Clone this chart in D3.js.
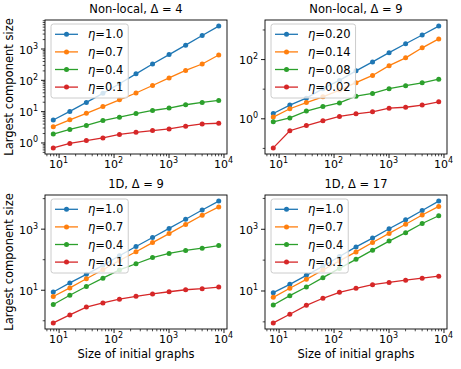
<!DOCTYPE html>
<html>
<head>
<meta charset="utf-8">
<script src="https://cdn.jsdelivr.net/npm/d3@7"></script>
<style>
body { margin: 0; background: #fff; }
svg { font-family: "DejaVu Sans", sans-serif; }
</style>
</head>
<body>
<svg width="461" height="369"></svg>
<script>
"use strict";

const sizes = [8, 16, 32, 64, 128, 256, 512, 1024, 2048, 4096, 8192];

const titles = ["Non-local, Δ = 4", "Non-local, Δ = 9", "1D, Δ = 9", "1D, Δ = 17"];
const etaBig = ["1.0", "0.7", "0.4", "0.1"];
const etaSmall = ["0.20", "0.14", "0.08", "0.02"];
const colors = ["#1f77b4", "#ff7f0e", "#2ca02c", "#d62728"];

// Non-local, delta 4
const nl4_10 = [5.2, 9.8, 19, 37, 75, 155, 320, 640, 1280, 2600, 5200];
const nl4_07 = [3.2, 5.3, 8.5, 14, 23, 38, 66, 115, 200, 320, 620];
const nl4_04 = [1.85, 2.6, 3.5, 5.0, 6.4, 8.4, 10.5, 12.5, 16, 19, 22];
const nl4_01 = [0.67, 0.93, 1.15, 1.4, 1.8, 2.1, 2.4, 2.7, 3.3, 3.9, 4.1];

// Non-local, delta 9
const nl9_20 = [1.45, 2.8, 4.8, 10, 19, 40, 80, 165, 330, 650, 1300];
const nl9_14 = [1.1, 2.1, 3.4, 5.3, 9, 16, 28, 60, 110, 240, 480];
const nl9_08 = [0.76, 1.03, 1.75, 2.5, 3.3, 5.6, 6.9, 10, 12.6, 15.8, 21];
const nl9_02 = [0.1, 0.38, 0.57, 0.82, 1.16, 1.42, 1.66, 2.2, 2.36, 2.8, 3.6];

// 1D, delta 9
const d9_10 = [8.4, 16.7, 32, 63, 130, 260, 515, 1020, 2040, 4070, 8000];
const d9_07 = [6, 11.5, 23, 45, 91, 175, 350, 690, 1380, 2760, 5150];
const d9_04 = [3.3, 6.6, 12.8, 24, 44.6, 71, 113, 155, 194, 230, 280];
const d9_01 = [0.82, 1.5, 2.7, 3.7, 4.9, 6.1, 7.3, 8.6, 10, 10.8, 12.2];

// 1D, delta 17
const d17_10 = [8.5, 15.8, 31, 61, 126, 258, 500, 1000, 1950, 3900, 7900];
const d17_07 = [6, 11.8, 23, 46, 91, 178, 360, 710, 1400, 2800, 5300];
const d17_04 = [3.4, 6.8, 13, 26, 52, 102, 203, 400, 750, 1480, 2650];
const d17_01 = [0.89, 1.7, 3.3, 5.6, 8.7, 11.8, 15.4, 18.3, 21.6, 25, 29];

const panels = [
  {title: titles[0], labels: etaBig, series: [nl4_10, nl4_07, nl4_04, nl4_01], stride: 1, col: 0, row: 0},
  {title: titles[1], labels: etaSmall, series: [nl9_20, nl9_14, nl9_08, nl9_02], stride: 2, col: 1, row: 0},
  {title: titles[2], labels: etaBig, series: [d9_10, d9_07, d9_04, d9_01], stride: 2, col: 0, row: 1},
  {title: titles[3], labels: etaBig, series: [d17_10, d17_07, d17_04, d17_01], stride: 2, col: 1, row: 1}
];

const svg = d3.select("svg");
const colX = [45, 265], rowY = [20, 195];
const W = 182, H = 134;

// matplotlib style 5% margin in log space
function padLog(vals) {
  const lo = Math.log10(d3.min(vals)), hi = Math.log10(d3.max(vals));
  const m = (hi - lo) * 0.05;
  return [Math.pow(10, lo - m), Math.pow(10, hi + m)];
}

function inDomain(sc, v) {
  const d = sc.domain();
  return v >= d[0] && v <= d[1];
}

function powLabel(t, e) {
  t.append("tspan").text("10");
  t.append("tspan").attr("dy", -5).attr("font-size", 8).text(e);
}

function styleAxis(a, w) {
  a.select(".domain").remove();
  a.selectAll(".tick line").attr("stroke", "#000").attr("stroke-width", w);
}

panels.forEach(p => {
  const x0 = colX[p.col], y0 = rowY[p.row];
  const g = svg.append("g").attr("transform", `translate(${x0},${y0})`);

  const x = d3.scaleLog().domain(padLog(sizes)).range([0, W]);
  const y = d3.scaleLog().domain(padLog(p.series.flat())).range([H, 0]);

  // x ticks
  const xMajor = [], xMinor = [];
  for (let d = 0; d <= 4; d++) {
    const b = Math.pow(10, d);
    if (inDomain(x, b)) xMajor.push(b);
    for (let k = 2; k <= 9; k++) if (inDomain(x, k * b)) xMinor.push(k * b);
  }
  const ax = g.append("g").attr("transform", `translate(0,${H})`)
    .call(d3.axisBottom(x).tickValues(xMinor).tickSize(2.3).tickFormat(""));
  styleAxis(ax, 0.7);
  const axM = g.append("g").attr("transform", `translate(0,${H})`)
    .call(d3.axisBottom(x).tickValues(xMajor).tickSize(4).tickFormat(""));
  styleAxis(axM, 0.9);
  xMajor.forEach(v => {
    const t = g.append("text").attr("x", x(v)).attr("y", H + 14)
      .attr("text-anchor", "middle").attr("font-size", 11);
    powLabel(t, Math.round(Math.log10(v)));
  });

  // y ticks, majors every `stride` decades counted from below the axis minimum
  const yMajor = [], yMinor = [];
  const start = Math.floor(Math.log10(y.domain()[0])) - p.stride;
  for (let d = start; d <= 6; d++) {
    const b = Math.pow(10, d);
    const isMajor = (d - start) % p.stride === 0;
    if (inDomain(y, b)) (isMajor ? yMajor : yMinor).push(b);
    if (p.stride === 1)
      for (let k = 2; k <= 9; k++) if (inDomain(y, k * b)) yMinor.push(k * b);
  }
  const ay = g.append("g")
    .call(d3.axisLeft(y).tickValues(yMinor).tickSize(2.3).tickFormat(""));
  styleAxis(ay, 0.7);
  const ayM = g.append("g")
    .call(d3.axisLeft(y).tickValues(yMajor).tickSize(4).tickFormat(""));
  styleAxis(ayM, 0.9);
  yMajor.forEach(v => {
    const t = g.append("text").attr("x", -7).attr("y", y(v) + 5)
      .attr("text-anchor", "end").attr("font-size", 11);
    powLabel(t, Math.round(Math.log10(v)));
  });

  // series
  const line = d3.line().x((d, i) => x(sizes[i])).y(d => y(d));
  p.series.forEach((s, si) => {
    g.append("path").datum(s).attr("d", line)
      .attr("fill", "none").attr("stroke", colors[si]).attr("stroke-width", 1.3);
    g.selectAll(null).data(s).enter().append("circle")
      .attr("cx", (d, i) => x(sizes[i])).attr("cy", d => y(d))
      .attr("r", 2.5).attr("fill", colors[si]);
  });

  // frame
  g.append("rect").attr("width", W).attr("height", H)
    .attr("fill", "none").attr("stroke", "#000").attr("stroke-width", 0.9);

  // title
  g.append("text").attr("x", W / 2).attr("y", -7).attr("text-anchor", "middle")
    .attr("font-size", 11.5).text(p.title);

  // legend
  const lg = g.append("g").attr("transform", "translate(6,4)");
  const box = lg.append("rect").attr("rx", 2.5).attr("fill", "#fff")
    .attr("fill-opacity", 0.8).attr("stroke", "#ccc").attr("stroke-width", 1);
  let maxW = 0;
  p.labels.forEach((lab, i) => {
    const cy = 10.3 + i * 17.6;
    lg.append("line").attr("x1", 4).attr("x2", 27).attr("y1", cy).attr("y2", cy)
      .attr("stroke", colors[i]).attr("stroke-width", 1.3);
    lg.append("circle").attr("cx", 15.5).attr("cy", cy).attr("r", 2.5).attr("fill", colors[i]);
    const t = lg.append("text").attr("x", 37).attr("y", cy + 4).attr("font-size", 11.5);
    t.append("tspan").attr("font-style", "italic").text("η");
    t.append("tspan").text("=" + lab);
    maxW = Math.max(maxW, t.node().getComputedTextLength());
  });
  box.attr("width", 37 + maxW + 5).attr("height", 74);

  if (p.col === 0) {
    svg.append("text").attr("transform", `translate(13,${y0 + H / 2}) rotate(-90)`)
      .attr("text-anchor", "middle").attr("font-size", 11.5).text("Largest component size");
  }
  if (p.row === 1) {
    svg.append("text").attr("x", x0 + W / 2).attr("y", 358)
      .attr("text-anchor", "middle").attr("font-size", 11.5).text("Size of initial graphs");
  }
});
</script>
</body>
</html>
